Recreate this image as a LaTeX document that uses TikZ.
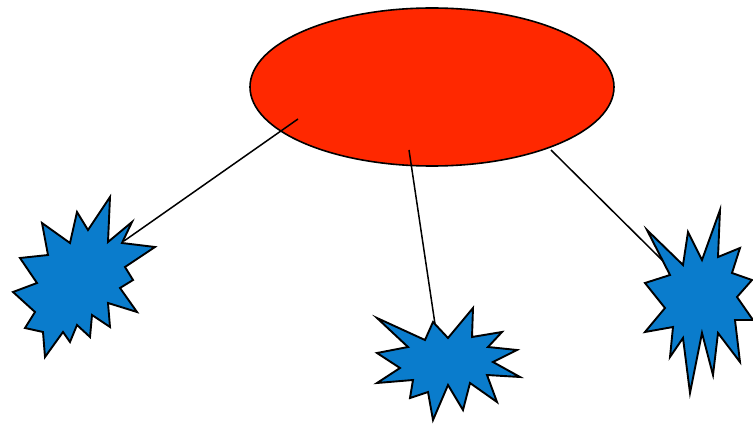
\documentclass[tikz,border=0pt]{standalone}
\usepackage{tikz}
\usetikzlibrary{shapes.geometric}
\definecolor{hubred}{RGB}{255,40,0}
\definecolor{burstblue}{RGB}{10,124,204}
\tikzset{
  hub/.style={
    ellipse, draw=black, fill=hubred, line width=1.6pt,
    minimum width=364pt, minimum height=158pt, inner sep=0pt
  },
  burst/.style={
    draw=black, fill=burstblue, line width=1.9pt, line join=miter
  },
  link/.style={
    draw=black, line width=1.5pt
  }
}

\begin{document}
\begin{tikzpicture}[x=1pt, y=-1pt]
\useasboundingbox (0,0) rectangle (753,425);

% ====== Central ellipse ======
\node[hub] (hub) at (432,87) {};

% ====== Link end points ======
\coordinate (hubL) at (298,119);
\coordinate (hubM) at (409,150);
\coordinate (hubR) at (551,150);
\coordinate (tipL) at (124,241);
\coordinate (tipM) at (435,324);
\coordinate (tipR) at (663,261);

% ====== Links ======
\draw[link] (hubL) -- (tipL);
\draw[link] (hubM) -- (tipM);
\draw[link] (hubR) -- (tipR);

% ====== Left burst ======
\draw[burst] (110,197) -- (108,242) -- (132,222) -- (122,243) -- (155,247)
  -- (125,267) -- (133,280) -- (120,288) -- (137,312) -- (108,303)
  -- (110,327) -- (92,315) -- (90,337) -- (77,325) -- (70,342)
  -- (63,332) -- (45,357) -- (43,332) -- (25,328) -- (35,312)
  -- (13,292) -- (37,283) -- (20,258) -- (48,255) -- (42,223)
  -- (70,243) -- (77,212) -- (88,230) -- cycle;

% ====== Middle burst ======
\draw[burst] (377,318) -- (425,340) -- (433,322) -- (448,338) -- (473,308)
  -- (472,337) -- (502,332) -- (488,347) -- (517,350) -- (493,362)
  -- (520,377) -- (487,375) -- (497,402) -- (470,383) -- (463,410)
  -- (448,385) -- (433,420) -- (428,392) -- (410,398) -- (413,380)
  -- (377,383) -- (400,368) -- (377,353) -- (408,347) -- cycle;

% ====== Right burst ======
\draw[burst] (647,230) -- (683,265) -- (688,232) -- (702,260) -- (720,210)
  -- (718,257) -- (740,248) -- (732,273) -- (752,280) -- (737,297)
  -- (753,320) -- (735,320) -- (740,362) -- (718,333) -- (713,375)
  -- (702,333) -- (690,393) -- (683,338) -- (670,357) -- (673,327)
  -- (645,332) -- (665,308) -- (645,283) -- (670,275) -- cycle;

\end{tikzpicture}
\end{document}
